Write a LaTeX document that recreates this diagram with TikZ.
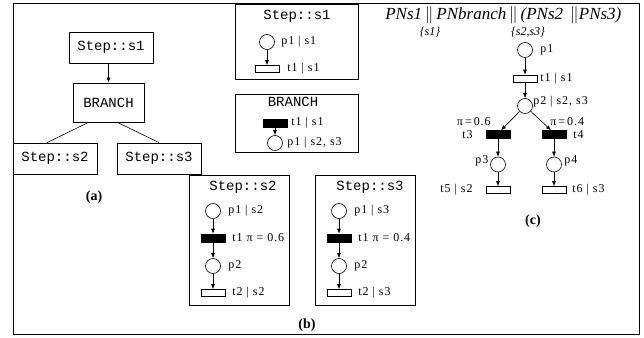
\documentclass[tikz,border=0pt]{standalone}
\usepackage{fontspec}
\setmainfont{Liberation Serif}
\setmonofont{Liberation Mono}
\newfontfamily\lblfamily[LetterSpace=8]{Liberation Serif}
\usetikzlibrary{arrows.meta,calc}

\begin{document}
\begin{tikzpicture}[>={Latex[length=5pt,width=4pt]}, x=1pt, y=-1pt, line width=0.6pt]
	\tikzstyle{frame}=[draw, line width=0.8pt]
	\tikzstyle{stepbox}=[draw, line width=0.8pt, font=\fontsize{14}{16}\ttfamily, inner sep=0pt]
	\tikzstyle{boxtitle}=[font=\fontsize{14}{16}\ttfamily, inner sep=0pt]
	\tikzstyle{place}=[draw, circle, minimum size=15pt, inner sep=0pt]
	\tikzstyle{trans}=[draw, minimum width=24pt, minimum height=7pt, inner sep=0pt]
	\tikzstyle{btrans}=[trans, fill=black, minimum height=8pt]
	\tikzstyle{lbl}=[font=\fontsize{12}{13}\lblfamily, inner sep=0pt, anchor=west]
	\tikzstyle{partcap}=[font=\fontsize{14}{16}\selectfont\bfseries]

	\useasboundingbox (0,0) rectangle (644,337);
	\draw [frame] (13,3) rectangle (639,334);

	% (a) step sequence
	\node (A1) [stepbox, minimum width=84pt, minimum height=31pt] at (111,47.5) {Step::s1};
	\node (A2) [stepbox, minimum width=71pt, minimum height=39pt] at (108.5,102.5) {BRANCH};
	\node (A3) [stepbox, minimum width=84pt, minimum height=31pt] at (55,158.5) {Step::s2};
	\node (A4) [stepbox, minimum width=84pt, minimum height=31pt] at (159,158.5) {Step::s3};
	\draw [->] (A1.south -| A2.north) -- (A2.north);
	\draw ($(A2.south)+(-20,0)$) -- ($(A3.north)+(-8,0)$);
	\draw ($(A2.south)+(9,0)$) -- (A4.north);
	\node (capA) [partcap] at (94,197) {(a)};

	% (b) one net per step
	\node (B1) [stepbox, minimum width=123pt, minimum height=75pt] at (296.5,41.5) {};
	\node (B1t) [boxtitle] at (297,16) {Step::s1};
	\node (B1p) [place] at (267,42) {};
	\node (B1tr) [trans] at (267,69) {};
	\node [lbl] at (281,42) {p1 | s1};
	\node [lbl] at (287,69) {t1 | s1};
	\draw [->] (B1p) -- (B1tr);

	\node (B2) [stepbox, minimum width=123pt, minimum height=58pt] at (296.5,123) {};
	\node (B2t) [boxtitle] at (293,102) {BRANCH};
	\node (B2tr) [btrans] at (275,123) {};
	\node (B2p) [place] at (275,143) {};
	\node [lbl] at (291,123) {t1 | s1};
	\node [lbl] at (287,143) {p1 | s2, s3};
	\draw [->] (B2tr) -- (B2p);

	\node (B3) [stepbox, minimum width=100pt, minimum height=130pt] at (239,240) {};
	\node (B3t) [boxtitle] at (243,187) {Step::s2};
	\node (B3p1) [place] at (213,211) {};
	\node (B3t1) [btrans] at (213,238) {};
	\node (B3p2) [place] at (213,266) {};
	\node (B3t2) [trans] at (213,293) {};
	\node [lbl] at (228,211) {p1 | s2};
	\node [lbl] at (232,238) {t1 π = 0.6};
	\node [lbl] at (228,266) {p2};
	\node [lbl] at (232,293) {t2 | s2};
	\draw [->] (B3p1) -- (B3t1);
	\draw [->] (B3t1) -- (B3p2);
	\draw [->] (B3p2) -- (B3t2);

	\node (B4) [stepbox, minimum width=100pt, minimum height=130pt] at (365,240) {};
	\node (B4t) [boxtitle] at (370,187) {Step::s3};
	\node (B4p1) [place] at (339,211) {};
	\node (B4t1) [btrans] at (339,238) {};
	\node (B4p2) [place] at (339,266) {};
	\node (B4t2) [trans] at (339,293) {};
	\node [lbl] at (354,211) {p1 | s3};
	\node [lbl] at (358,238) {t1 π = 0.4};
	\node [lbl] at (354,266) {p2};
	\node [lbl] at (358,293) {t2 | s3};
	\draw [->] (B4p1) -- (B4t1);
	\draw [->] (B4t1) -- (B4p2);
	\draw [->] (B4p2) -- (B4t2);
	\node (capB) [partcap] at (307,325) {(b)};

	% (c) composed net
	\node (hdr) [anchor=base west, inner sep=0pt, font=\fontsize{17}{20}\selectfont\itshape] at (385,20)
		{PNs1\,$\big\|$\,PNbranch\,$\big\|$\,(PNs2\ \,$\big\|$PNs3)};
	\node (sub1) [inner sep=0pt, font=\fontsize{12}{14}\selectfont\itshape] at (430,32) {\{s1\}};
	\node (sub2) [inner sep=0pt, font=\fontsize{12}{14}\selectfont\itshape] at (528,32) {\{s2,s3\}};

	\node (C1) [place] at (525,50) {};
	\node (C2) [trans] at (525,78.5) {};
	\node (C3) [place] at (525,106) {};
	\node (C4) [btrans] at (498,134.5) {};
	\node (C5) [btrans] at (554,134.5) {};
	\node (C6) [place] at (498,164.5) {};
	\node (C7) [place] at (554,164.5) {};
	\node (C8) [trans] at (498,190) {};
	\node (C9) [trans] at (554,190) {};
	\node [lbl] at (540,50) {p1};
	\node [lbl] at (540,79) {t1 | s1};
	\node [lbl] at (533,102) {p2 | s2, s3};
	\node [lbl, anchor=east] at (491,122) {π\,=\,0.6};
	\node [lbl] at (462,135) {t3};
	\node [lbl] at (550,122) {π\,=\,0.4};
	\node [lbl] at (573,135) {t4};
	\node [lbl] at (475,161) {p3};
	\node [lbl] at (564,161) {p4};
	\node [lbl] at (440,190) {t5 | s2};
	\node [lbl] at (572,190) {t6 | s3};
	\draw [->] (C1) -- (C2);
	\draw [->] (C2) -- (C3);
	\draw [->] (C3) -- ($(C4.north)+(3,0)$);
	\draw [->] (C3) -- ($(C5.north)+(-3,0)$);
	\draw [->] (C4) -- (C6);
	\draw [->] (C5) -- (C7);
	\draw [->] (C6) -- (C8);
	\draw [->] (C7) -- (C9);
	\node (capC) [partcap] at (533,221) {(c)};
\end{tikzpicture}
\end{document}
